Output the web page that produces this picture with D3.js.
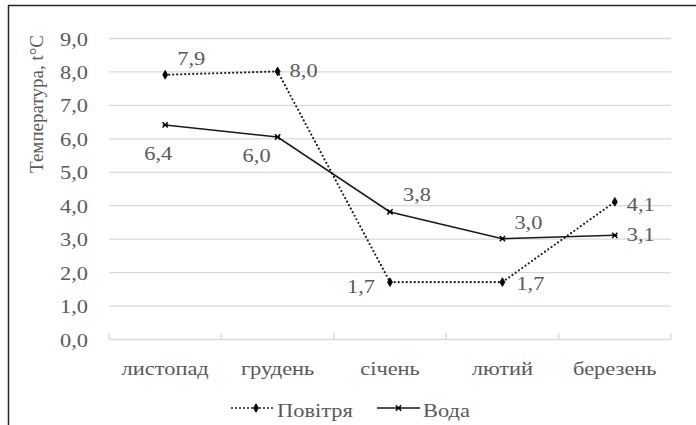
<!DOCTYPE html>
<meta charset="utf-8">
<style>
body { margin: 0; background: #fff; }
text { font-family: "Liberation Serif", "Times New Roman", serif; fill: #595959; }
</style>
<body>
<script src="https://d3js.org/d3.v7.min.js"></script>
<script>
var months = ["листопад", "грудень", "січень", "лютий", "березень"];
var air = [7.9, 8.0, 1.7, 1.7, 4.1];
var water = [6.4, 6.04, 3.8, 3.0, 3.1];
var airLabels = ["7,9", "8,0", "1,7", "1,7", "4,1"];
var waterLabels = ["6,4", "6,0", "3,8", "3,0", "3,1"];
var yTicks = [0, 1, 2, 3, 4, 5, 6, 7, 8, 9];

// where each data label sits relative to its point
var airPlace = [[26, -10], [26, 6], [-29, 11], [28, 8], [26, 9]];
var waterPlace = [[-7, 35], [-21, 25], [27, -11], [26, -10], [26, 6]];

var width = 696, height = 425;
var sx = 1.18; // text in the picture is a bit wider than normal

var svg = d3.select("body").append("svg")
    .attr("width", width)
    .attr("height", height);

// frame (only top and left edges visible)
svg.append("line").attr("x1", 8).attr("x2", width).attr("y1", 5.5).attr("y2", 5.5)
    .attr("stroke", "#262626").attr("stroke-width", 1.5);
svg.append("line").attr("x1", 8.5).attr("x2", 8.5).attr("y1", 5).attr("y2", height)
    .attr("stroke", "#262626").attr("stroke-width", 1.5);

var x = d3.scaleBand().domain(months).range([109, 671]);
var y = d3.scaleLinear().domain([0, 9]).range([339, 38]);
function cx(i) { return x(months[i]) + x.bandwidth() / 2; }

function label(g, str, px, py, anchor, size) {
  return g.append("text")
    .attr("transform", "translate(" + px + "," + py + ") scale(" + sx + ",1)")
    .attr("text-anchor", anchor)
    .style("font-size", (size || 19) + "px")
    .text(str);
}

// grid + y axis
var yAxis = svg.append("g")
    .attr("transform", "translate(109,0)")
    .call(d3.axisLeft(y).tickValues(yTicks).tickSize(-(671 - 109)).tickFormat(function(d) {
      return d.toFixed(1).replace(".", ",");
    }));
yAxis.select(".domain").remove();
yAxis.selectAll("line").attr("stroke", "#d9d9d9").attr("stroke-width", 1.3);
yAxis.selectAll("text")
    .attr("x", 0).attr("dy", null).attr("y", 0)
    .attr("transform", "translate(-21,7) scale(" + sx + ",1)")
    .style("font-size", "19px")
    .style("font-family", "Liberation Serif, Times New Roman, serif")
    .attr("fill", "#595959");

// x axis ticks (pointing up into the plot)
var xg = svg.append("g");
xg.selectAll("line.tick")
  .data(months.concat(["end"]))
  .enter().append("line")
    .attr("x1", function(d, i) { return i < months.length ? x(d) : x.range()[1]; })
    .attr("x2", function(d, i) { return i < months.length ? x(d) : x.range()[1]; })
    .attr("y1", y(0) - 6).attr("y2", y(0))
    .attr("stroke", "#d9d9d9").attr("stroke-width", 1.3);
months.forEach(function(m, i) { label(xg, m, cx(i), y(0) + 36, "middle"); });

// y axis title
svg.append("text")
    .attr("transform", "translate(43,104) rotate(-90)")
    .attr("text-anchor", "middle")
    .style("font-size", "19px")
    .text("Температура, t°C");

var line = d3.line()
    .x(function(d, i) { return cx(i); })
    .y(function(d) { return y(d); });

// Повітря (dotted)
svg.append("path").datum(air)
    .attr("d", line)
    .attr("fill", "none").attr("stroke", "#1a1a1a")
    .attr("stroke-width", 2.2).attr("stroke-linecap", "round")
    .attr("stroke-dasharray", "0,4");

// Вода (solid)
svg.append("path").datum(water)
    .attr("d", line)
    .attr("fill", "none").attr("stroke", "#1a1a1a")
    .attr("stroke-width", 1.6);

var diamond = d3.symbol().type(d3.symbolDiamond).size(22);
var cross = d3.symbol().type(d3.symbolX).size(20);

function airMarker(g, px, py) {
  g.append("path").attr("d", diamond)
    .attr("transform", "translate(" + px + "," + py + ")")
    .attr("fill", "#000").attr("stroke", "#000").attr("stroke-width", 0.8);
}
function waterMarker(g, px, py) {
  g.append("path").attr("d", cross)
    .attr("transform", "translate(" + px + "," + py + ")")
    .attr("fill", "none").attr("stroke", "#000").attr("stroke-width", 1.4);
  g.append("line").attr("x1", px - 2.5).attr("x2", px + 2.5).attr("y1", py).attr("y2", py)
    .attr("stroke", "#000").attr("stroke-width", 1.4);
}

var marks = svg.append("g");
air.forEach(function(v, i) { airMarker(marks, cx(i), y(v)); });
water.forEach(function(v, i) { waterMarker(marks, cx(i), y(v)); });

var labels = svg.append("g");
air.forEach(function(v, i) {
  label(labels, airLabels[i], cx(i) + airPlace[i][0], y(v) + airPlace[i][1], "middle");
});
water.forEach(function(v, i) {
  label(labels, waterLabels[i], cx(i) + waterPlace[i][0], y(v) + waterPlace[i][1], "middle");
});

// legend
var lg = svg.append("g");
lg.append("line").attr("x1", 232).attr("x2", 275).attr("y1", 408).attr("y2", 408)
    .attr("stroke", "#1a1a1a").attr("stroke-width", 2).attr("stroke-linecap", "round")
    .attr("stroke-dasharray", "0,4");
airMarker(lg, 256, 408);
label(lg, "Повітря", 277, 417, "start");
lg.append("line").attr("x1", 377).attr("x2", 420).attr("y1", 408).attr("y2", 408)
    .attr("stroke", "#1a1a1a").attr("stroke-width", 1.6);
waterMarker(lg, 398.5, 408);
label(lg, "Вода", 423, 417, "start");
</script>
</body>
</html>
